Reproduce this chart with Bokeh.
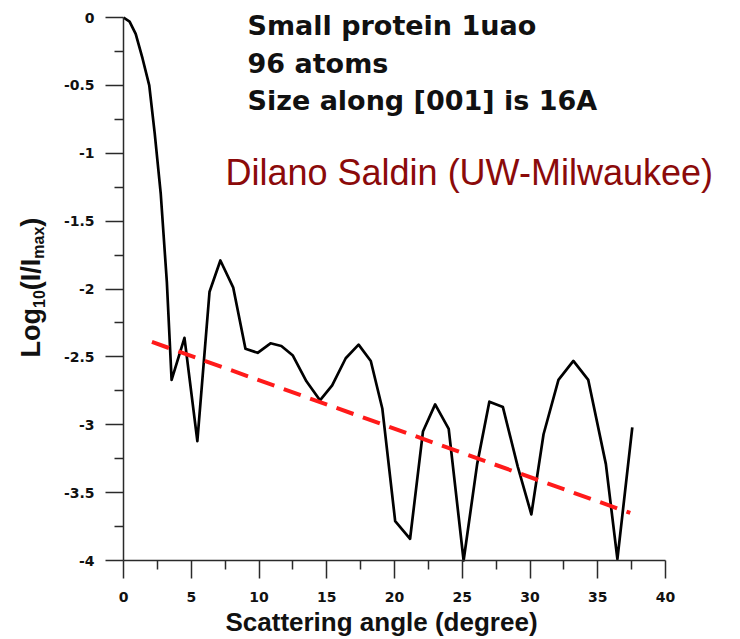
import math
from bokeh.plotting import figure
from bokeh.models import FixedTicker, Label, NumeralTickFormatter
from bokeh.embed import file_html
from bokeh.resources import INLINE

# ---- data ----
angle_deg = [0, 0.45, 0.9, 1.4, 1.9, 2.3, 2.75, 3.2, 3.55, 4.5, 5.45, 6.35, 7.15,
             8.1, 9.0, 9.9, 10.85, 11.65, 12.5, 13.5, 14.5, 15.4, 16.4, 17.35,
             18.25, 19.1, 20.05, 21.15, 22.1, 23.0, 24.0, 25.1, 26.1, 27.0, 28.0,
             29.1, 30.1, 31.0, 32.1, 33.2, 34.3, 35.6, 36.45, 37.55]
log_intensity = [0, -0.03, -0.12, -0.3, -0.5, -0.85, -1.3, -1.95, -2.67, -2.36,
                 -3.12, -2.02, -1.79, -1.99, -2.44, -2.47, -2.40, -2.42, -2.49,
                 -2.68, -2.82, -2.71, -2.51, -2.41, -2.53, -2.88, -3.71, -3.84,
                 -3.05, -2.85, -3.03, -4.0, -3.29, -2.83, -2.87, -3.31, -3.66,
                 -3.07, -2.67, -2.53, -2.67, -3.29, -3.99, -3.02]
trend_x = [2.1, 37.4]
trend_y = [-2.39, -3.65]

x_ticks = [0, 5, 10, 15, 20, 25, 30, 35, 40]
x_minor = [2.5, 7.5, 12.5, 17.5, 22.5, 27.5, 32.5, 37.5]
y_ticks = [0, -0.5, -1, -1.5, -2, -2.5, -3, -3.5, -4]
y_minor = [-0.25, -0.75, -1.25, -1.75, -2.25, -2.75, -3.25, -3.75]
x_min, x_max = 0, 40
y_min, y_max = -4, 0

x_title = "Scattering angle (degree)"
y_title_parts = ["Log", "10", "(I/I", "max", ")"]
info_lines = ["Small protein 1uao", "96 atoms", "Size along [001] is 16A"]
credit = "Dilano Saldin (UW-Milwaukee)"

# ---- layout: the plotting area spans the canvas; axes sit at fixed data locations ----
W, H = 740, 639
LEFT, RIGHT, TOP, BOTTOM = 123, 665, 17, 560          # pixel box of the axes
sx = (RIGHT - LEFT) / (x_max - x_min)
sy = (BOTTOM - TOP) / (y_max - y_min)
xr = (x_min - LEFT / sx, x_max + (W - RIGHT) / sx)
yr = (y_min - (H - BOTTOM) / sy, y_max + TOP / sy)

p = figure(width=W, height=H, x_range=xr, y_range=yr,
           output_backend="svg", toolbar_location=None, min_border=0)
p.xgrid.visible = False
p.ygrid.visible = False
p.outline_line_color = None
p.background_fill_color = "white"
p.border_fill_color = "white"

AX = "#2a2a2a"
for ax in (p.xaxis[0], p.yaxis[0]):
    ax.axis_line_color = AX
    ax.axis_line_width = 1.5
    ax.major_tick_line_color = AX
    ax.major_tick_line_width = 1.5
    ax.minor_tick_line_color = AX
    ax.minor_tick_line_width = 1.5
    ax.major_tick_in = 0
    ax.major_tick_out = 18
    ax.minor_tick_in = 0
    ax.minor_tick_out = 9
    ax.major_label_text_font = "DejaVu Sans"
    ax.major_label_text_font_style = "bold"
    ax.major_label_text_font_size = "14px"
    ax.major_label_text_color = "#111111"
    ax.formatter = NumeralTickFormatter(format="0.[0]")

p.xaxis.ticker = FixedTicker(ticks=x_ticks, minor_ticks=x_minor)
p.yaxis.ticker = FixedTicker(ticks=y_ticks, minor_ticks=y_minor)
p.xaxis.fixed_location = y_min
p.yaxis.fixed_location = x_min
p.xaxis.bounds = (x_min, x_max)
p.yaxis.bounds = (y_min, y_max)
p.xaxis.major_label_standoff = 13
p.yaxis.major_label_standoff = 11

# curve and trend line
p.line(angle_deg, log_intensity, line_color="black", line_width=2.7, line_join="round")
p.line(trend_x, trend_y, line_color="#ff1a1a", line_width=4, line_dash="18 10")

# pixel -> data helpers for text placement
def dx(px):
    return x_min + (px - LEFT) / sx

def dy(py):
    return y_max - (py - TOP) / sy

SHIFT = 0.37  # empirical baseline correction (em)

# x title
p.add_layout(Label(x=dx(381), y=dy(631 - SHIFT * 26), text=x_title, text_align="center",
                   text_baseline="alphabetic", text_font="Liberation Sans",
                   text_font_style="bold", text_font_size="26px", text_color="#111111"))

# y title (rotated, with subscripts)
sizes = [27, 16, 27, 16, 27]
widths_em = [1.833, 1.112, 1.167, 2.001, 0.333]
pos = 357.0
for part, sz, w in zip(y_title_parts, sizes, widths_em):
    base_px = (40 if sz == 27 else 44) - SHIFT * sz
    p.add_layout(Label(x=dx(base_px), y=dy(pos), text=part, angle=math.pi / 2,
                       text_align="left", text_baseline="alphabetic",
                       text_font="Liberation Sans", text_font_style="bold",
                       text_font_size=f"{sz}px", text_color="#111111"))
    pos -= w * sz

# info text
for i, line in enumerate(info_lines):
    p.add_layout(Label(x=dx(247), y=dy(35 + 37.5 * i - SHIFT * 27), text=line,
                       text_align="left", text_baseline="alphabetic",
                       text_font="DejaVu Sans", text_font_style="bold",
                       text_font_size="27px", text_color="#111111"))

p.add_layout(Label(x=dx(225), y=dy(185 - SHIFT * 36), text=credit, text_align="left",
                   text_baseline="alphabetic", text_font="Liberation Sans",
                   text_font_size="36px", text_color="#8b0a0a"))

open("out.html", "w").write(file_html(p, INLINE))
